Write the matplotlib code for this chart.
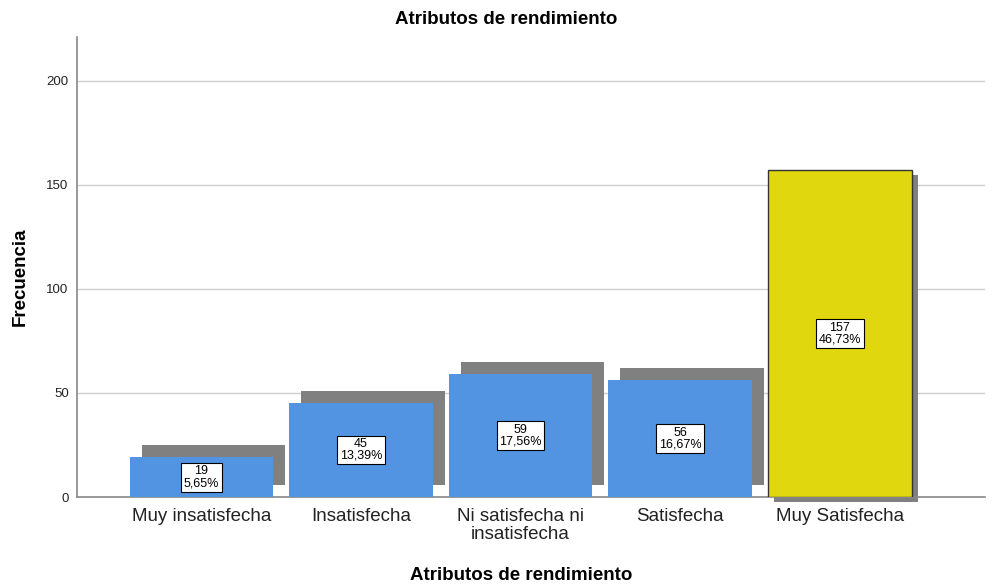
import numpy as np
import matplotlib
matplotlib.use("Agg")
import matplotlib.pyplot as plt
from matplotlib.transforms import ScaledTranslation

plt.rcParams.update({"font.family": ["Liberation Sans", "DejaVu Sans"]})

categories = ["Muy insatisfecha", "Insatisfecha", "Ni satisfecha ni\ninsatisfecha",
              "Satisfecha", "Muy Satisfecha"]
counts = [19, 45, 59, 56, 157]
percents = ["5,65%", "13,39%", "17,56%", "16,67%", "46,73%"]
yticks = [0, 50, 100, 150, 200]

BLUE = "#5294E2"
YELLOW = "#E1D70F"
SHADOW = "#808080"

fig = plt.figure(figsize=(9.97, 5.84), dpi=100)
ax = fig.add_axes([77/997, 1-497/584, (985-77)/997, (497-37)/584])

x = np.arange(len(categories))
w = 0.9
top = len(categories) - 1

# shadows (offset in pixels -> inches)
for i, v in enumerate(counts):
    if i == top:
        dx, dy = 0.06, -0.05
    else:
        dx, dy = 0.12, 0.12
    tr = ax.transData + ScaledTranslation(dx, dy, fig.dpi_scale_trans)
    ax.bar(x[i], v, w, color=SHADOW, linewidth=0, transform=tr, zorder=2, clip_on=False)

colors = [BLUE]*4 + [YELLOW]
edges = ["none"]*4 + ["#333333"]
ax.bar(x, counts, w, color=colors, edgecolor=edges, linewidth=1.0, zorder=3)

for i, v in enumerate(counts):
    ax.text(x[i], v/2, f"{v}\n{percents[i]}", ha="center", va="center", fontsize=9,
            linespacing=0.95, zorder=4,
            bbox=dict(boxstyle="square,pad=0.2", fc="white", ec="black", lw=0.8))

ax.set_xlim(-0.78, 4.91)
ax.set_ylim(0, 221)
ax.set_yticks(yticks)
ax.yaxis.grid(True, color="#CFCFCF", linewidth=1.0, zorder=0)
ax.set_axisbelow(True)
ax.set_xticks(x)
ax.set_xticklabels(categories, fontsize=13.5, color="#222222", linespacing=1.1)
ax.tick_params(axis="x", length=0, pad=8)
ax.tick_params(axis="y", length=0, pad=6, labelsize=9.5, labelcolor="#222222")
for s in ["top", "right"]:
    ax.spines[s].set_visible(False)
for s in ["left", "bottom"]:
    ax.spines[s].set_color("#888888")
    ax.spines[s].set_linewidth(1.2)

fig.text(506/997, 1-20/584, "Atributos de rendimiento", ha="center", va="center",
         fontsize=13.5, fontweight="bold")
fig.text(521/997, 1-575/584, "Atributos de rendimiento", ha="center", va="center",
         fontsize=13.5, fontweight="bold")
fig.text(20/997, 1-277/584, "Frecuencia", ha="center", va="center", rotation=90,
         fontsize=13.5, fontweight="bold")

fig.savefig("out.png", dpi=100)
